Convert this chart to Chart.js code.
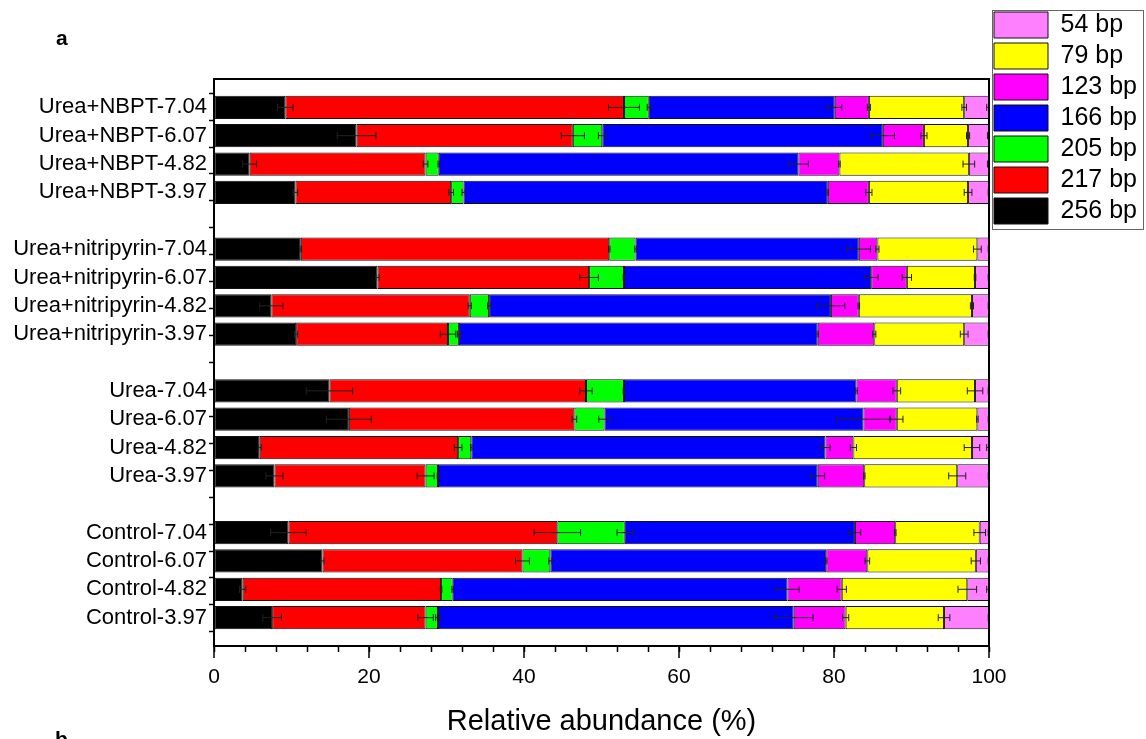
<!DOCTYPE html>
<html lang="en">
<head>
  <meta charset="UTF-8" />
  <title>Relative abundance of T-RFs</title>
  <script src="https://cdn.jsdelivr.net/npm/chart.js"></script>
  <style>
    body {
      margin: 0;
      background: #fff;
      overflow: hidden;
      font-family: "Liberation Sans", Arial, sans-serif;
    }
    .wrap {
      position: relative;
      width: 1146px;
      height: 739px;
    }
    .panel {
      position: absolute;
      font-weight: bold;
      font-size: 21px;
      color: #000;
    }
  </style>
</head>
<body>

<div class="wrap">
  <canvas id="chart" width="1146" height="739"></canvas>
  <div class="panel" style="left:56px; top:26px;">a</div>
  <div class="panel" style="left:55px; top:727px;">b</div>
</div>

<script>
const categories = [
  "Urea+NBPT-7.04", "Urea+NBPT-6.07", "Urea+NBPT-4.82", "Urea+NBPT-3.97",
  "Urea+nitripyrin-7.04", "Urea+nitripyrin-6.07", "Urea+nitripyrin-4.82", "Urea+nitripyrin-3.97",
  "Urea-7.04", "Urea-6.07", "Urea-4.82", "Urea-3.97",
  "Control-7.04", "Control-6.07", "Control-4.82", "Control-3.97"
];

// relative abundance (%) per fragment, left to right in each bar
const bp256 = [9.2, 18.4, 4.6, 10.5, 11.2, 21.1, 7.4, 10.6, 14.9, 17.4, 5.9, 7.8, 9.6, 14.0, 3.7, 7.5];
const bp217 = [43.7, 27.9, 22.7, 20.1, 39.8, 27.3, 25.6, 19.6, 33.1, 29.1, 25.6, 19.5, 34.7, 25.8, 25.6, 19.8];
const bp205 = [3.2, 3.8, 1.7, 1.6, 3.4, 4.5, 2.5, 1.4, 4.9, 3.9, 1.7, 1.6, 8.7, 3.6, 1.5, 1.6];
const bp166 = [24.0, 36.2, 46.4, 47.0, 28.8, 31.9, 44.1, 46.3, 30.0, 33.4, 45.7, 49.0, 29.7, 35.6, 43.2, 45.9];
const bp123 = [4.4, 5.3, 5.3, 5.3, 2.4, 4.6, 3.6, 7.3, 5.2, 4.3, 3.6, 6.0, 5.2, 5.3, 7.0, 6.7];
const bp79 = [12.3, 5.7, 16.7, 12.8, 12.9, 8.8, 14.6, 11.6, 10.1, 10.4, 15.3, 12.0, 10.9, 14.0, 16.2, 12.7];
const bp54 = [3.2, 2.7, 2.6, 2.7, 1.5, 1.8, 2.2, 3.2, 1.8, 1.5, 2.2, 4.1, 1.2, 1.7, 2.8, 5.8];

// standard errors
const err256 = [1.0, 2.5, 0.9, 0.3, 0.1, 0.2, 1.5, 0.2, 3.0, 2.9, 0.2, 1.1, 2.3, 0.2, 0.4, 1.2];
const err217 = [2.0, 1.5, 0.3, 0.3, 0.1, 1.2, 0.2, 1.0, 0.8, 0.3, 0.5, 1.1, 3.0, 0.9, 0.1, 1.0];
const err205 = [0.2, 0.5, 0.1, 0.2, 0.1, 0.1, 0.2, 0.2, 0.1, 0.75, 0.1, 0.1, 1.0, 0.2, 0.1, 0.3];
const err166 = [0.9, 1.5, 1.3, 0.1, 1.5, 0.9, 1.8, 0.1, 0.1, 3.4, 0.6, 0.9, 0.75, 0.1, 1.5, 2.5];
const err123 = [0.2, 0.4, 0.1, 0.4, 0.2, 0.6, 0.1, 0.2, 0.5, 0.8, 0.4, 0.1, 0.1, 0.3, 0.6, 0.4];
const err79 = [0.3, 0.2, 0.75, 0.5, 0.5, 0.1, 0.2, 0.5, 1.0, 0.1, 1.0, 1.1, 0.75, 0.6, 1.2, 0.75];
const err54 = [0.3, 0.2, 0.2, 0.1, 0.1, 0.1, 0.1, 0.1, 0.1, 0.1, 0.3, 0.1, 0.1, 0.1, 0.3, 0.1];

const xTicks = [0, 20, 40, 60, 80, 100];

const series = [
  { label: "256 bp", data: bp256, err: err256, color: "#000000" },
  { label: "217 bp", data: bp217, err: err217, color: "#ff0000" },
  { label: "205 bp", data: bp205, err: err205, color: "#00ff00" },
  { label: "166 bp", data: bp166, err: err166, color: "#0000ff" },
  { label: "123 bp", data: bp123, err: err123, color: "#ff00ff" },
  { label: "79 bp", data: bp79, err: err79, color: "#ffff00" },
  { label: "54 bp", data: bp54, err: err54, color: "#ff80ff" }
];

// one empty row between the treatment groups
const slotOf = i => i + Math.floor(i / 4) + 1;
const yMax = slotOf(categories.length - 1) + 1;

const font = "'Liberation Sans', Arial, sans-serif";

const errorBars = {
  id: "errorBars",
  afterDatasetsDraw(chart) {
    const ctx = chart.ctx;
    const xs = chart.scales.x;
    const right = chart.chartArea.right;
    ctx.save();
    ctx.strokeStyle = "#222";
    ctx.lineWidth = 1;
    series.forEach((s, si) => {
      chart.getDatasetMeta(si).data.forEach((bar, j) => {
        let end = 0;
        for (let k = 0; k <= si; k++) end += series[k].data[j];
        const e = s.err[j];
        const x1 = xs.getPixelForValue(end - e);
        const x2 = Math.min(xs.getPixelForValue(end + e), right);
        const y = bar.y;
        ctx.beginPath();
        ctx.moveTo(x1, y); ctx.lineTo(x2, y);
        ctx.moveTo(x1, y - 3.5); ctx.lineTo(x1, y + 3.5);
        if (x2 < right) { ctx.moveTo(x2, y - 3.5); ctx.lineTo(x2, y + 3.5); }
        ctx.stroke();
      });
    });
    ctx.restore();
  }
};

const frame = {
  id: "frame",
  afterInit(chart) {
    // widen the legend so its box sits right of the plot
    const lg = chart.legend;
    const fit = lg.fit;
    lg.fit = function () { fit.call(this); this.width = 157; };
  },
  afterDatasetsDraw(chart) {
    const { ctx, chartArea: a } = chart;
    ctx.save();
    ctx.strokeStyle = "#000";
    ctx.lineWidth = 2;
    ctx.strokeRect(a.left, a.top, a.right - a.left, a.bottom - a.top);
    // longer marks at the labelled x ticks
    const xs = chart.scales.x;
    ctx.lineWidth = 1.5;
    ctx.beginPath();
    xTicks.forEach(v => {
      const px = xs.getPixelForValue(v);
      ctx.moveTo(px, a.bottom); ctx.lineTo(px, a.bottom + 12);
    });
    ctx.stroke();
    ctx.restore();
  },
  afterDraw(chart) {
    const lg = chart.legend;
    const hb = lg.legendHitBoxes;
    if (!hb || !hb.length) return;
    const top = Math.min(...hb.map(h => h.top)) - 2;
    const bottom = Math.max(...hb.map(h => h.top + h.height)) + 5;
    const ctx = chart.ctx;
    ctx.save();
    ctx.strokeStyle = "#666";
    ctx.lineWidth = 1;
    ctx.strokeRect(lg.left + 3.5, top + 0.5, lg.right - lg.left - 6, bottom - top);
    ctx.restore();
  }
};

new Chart(document.getElementById("chart"), {
  type: "bar",
  data: {
    datasets: series.map(s => ({
      label: s.label,
      data: s.data.map((v, i) => ({ x: v, y: slotOf(i) })),
      backgroundColor: s.color,
      borderColor: "#111",
      borderWidth: 1,
      borderSkipped: false,
      barPercentage: 1,
      categoryPercentage: 0.82
    }))
  },
  options: {
    indexAxis: "y",
    responsive: false,
    animation: false,
    layout: { padding: { top: 7, left: 0, right: 0, bottom: 0 } },
    scales: {
      x: {
        type: "linear",
        stacked: true,
        min: 0,
        max: 100,
        afterBuildTicks: s => {
          const t = [];
          for (let v = 0; v <= 100; v += 4) t.push({ value: v });
          s.ticks = t;
        },
        ticks: {
          autoSkip: false,
          maxRotation: 0,
          padding: 13,
          color: "#000",
          font: { family: font, size: 21 },
          callback: v => (xTicks.includes(v) ? String(v) : "")
        },
        grid: { drawOnChartArea: false, tickLength: 6, color: "#000", tickWidth: 1.5 },
        border: { color: "#000", width: 2 },
        title: {
          display: true,
          text: "Relative abundance (%)",
          color: "#000",
          font: { family: font, size: 29 },
          padding: { top: 1, bottom: 0 }
        }
      },
      xTop: {
        type: "linear",
        position: "top",
        min: 0,
        max: 100,
        grid: { display: false, drawTicks: false },
        border: { display: false },
        ticks: { display: false },
        afterFit: s => { s.height = 72; }
      },
      y: {
        type: "linear",
        stacked: true,
        reverse: true,
        offset: false,
        min: 0,
        max: yMax,
        weight: 1,
        afterBuildTicks: s => {
          s.ticks = categories.map((c, i) => ({ value: slotOf(i) }));
        },
        afterFit: s => { s.width = 209; },
        ticks: {
          autoSkip: false,
          padding: 2,
          color: "#000",
          font: { family: font, size: 22 },
          callback: v => {
            const i = categories.findIndex((c, k) => slotOf(k) === v);
            return i >= 0 ? categories[i] : "";
          }
        },
        grid: { display: false, drawTicks: false, tickLength: 0, offset: false },
        border: { display: false }
      },
      yMarks: {
        type: "linear",
        position: "left",
        reverse: true,
        min: 0,
        max: yMax,
        weight: 0,
        afterBuildTicks: s => {
          const vals = new Set();
          categories.forEach((c, i) => { vals.add(slotOf(i) - 0.5); vals.add(slotOf(i) + 0.5); });
          s.ticks = [...vals].sort((a, b) => a - b).map(v => ({ value: v }));
        },
        afterFit: s => { s.width = 5; },
        ticks: { display: false, autoSkip: false },
        grid: { drawOnChartArea: false, tickLength: 5, color: "#000", tickWidth: 1.5 },
        border: { color: "#000", width: 2 }
      }
    },
    plugins: {
      legend: {
        position: "right",
        align: "start",
        reverse: true,
        labels: {
          boxWidth: 54,
          boxHeight: 26,
          padding: 5,
          color: "#000",
          font: { family: font, size: 25 }
        }
      },
      tooltip: { enabled: false }
    }
  },
  plugins: [errorBars, frame]
});
</script>

</body>
</html>
